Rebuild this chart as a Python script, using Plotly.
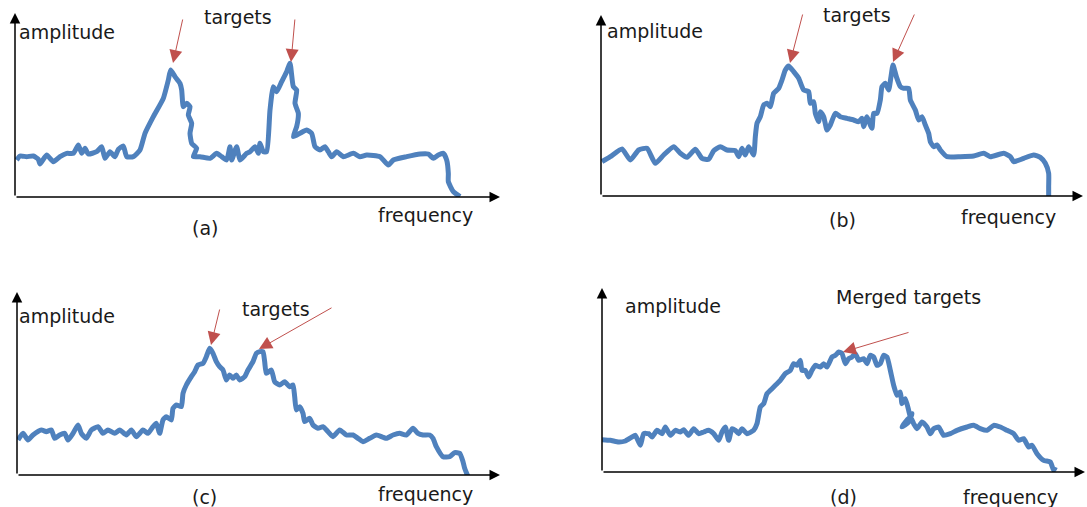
import plotly.graph_objects as go

W, H = 1087, 507

# ---------------- data (arbitrary frequency / amplitude units) ----------------
freq_a = [5,15,35,55,70,75,95,115,135,155,175,190,200,210,220,245,260,270,285,300,310,325,335,355,375,390,415,445,460,467,480,495,500,505,515,525,520,530,525,530,545,535,555,585,605,620,635,645,650,665,675,695,705,720,730,735,745,755,765,775,785,800,815,825,835,845,840,850,845,835,855,875,890,900,915,930,940,950,965,985,1015,1035,1055,1095,1120,1135,1175,1215,1240,1255,1270,1285,1295,1300,1300,1315,1335]
amp_a = [111,123,121,123,113,99,126,106,121,131,131,156,131,146,129,136,151,116,136,121,143,153,121,121,141,191,241,296,351,381,361,341,321,271,281,271,246,221,191,161,146,121,121,116,131,121,111,151,111,151,111,131,136,151,131,161,136,136,261,331,316,346,376,401,331,321,281,251,211,181,191,201,191,151,141,151,136,121,136,121,131,121,126,121,96,111,121,129,129,116,126,131,111,71,46,16,1]

freq_b = [3,28,63,88,113,138,163,188,218,238,258,283,303,323,338,358,378,403,413,423,433,443,458,463,468,478,488,498,508,518,533,543,553,563,578,593,608,623,628,638,643,653,658,668,678,688,703,718,738,758,773,783,788,798,808,813,818,828,838,843,853,863,870,876,886,898,908,923,928,943,953,963,973,983,988,998,1008,1018,1038,1078,1118,1148,1168,1208,1228,1238,1268,1298,1318,1333,1343,1343,1343]
amp_b = [103,118,141,108,138,143,98,123,148,128,116,140,113,110,136,148,138,136,118,143,123,148,123,178,218,238,273,278,268,308,323,348,378,390,373,353,318,313,278,283,248,223,253,238,198,213,248,238,233,228,223,233,208,238,213,203,248,248,288,328,338,318,358,393,358,328,323,323,288,258,228,238,213,188,163,148,153,138,118,118,120,128,118,128,118,103,113,123,116,98,68,28,-7]

freq_c = [3,18,33,48,73,88,103,113,128,143,153,168,183,193,208,223,243,258,273,293,308,328,343,358,378,393,408,418,428,438,448,463,468,478,493,498,508,523,533,543,558,568,578,588,598,608,618,628,638,648,658,668,683,693,708,718,728,738,743,748,763,773,788,803,818,828,833,838,848,858,863,878,888,903,918,933,948,968,988,1008,1023,1038,1058,1078,1108,1128,1148,1168,1188,1203,1218,1238,1248,1258,1278,1298,1313,1328,1338,1343,1353]
amp_c = [105,125,105,120,135,130,135,110,120,125,105,125,150,125,110,135,145,125,135,125,135,120,135,115,135,125,145,155,125,165,175,165,200,210,205,245,270,295,310,330,335,355,380,365,340,325,315,285,300,290,300,285,295,315,340,365,370,370,340,305,315,280,270,280,265,270,235,195,205,185,160,170,150,140,145,130,115,135,120,120,110,100,110,120,110,120,125,120,140,125,120,120,110,85,55,55,67,65,40,20,-5]

freq_d = [0,25,50,70,90,100,115,125,140,150,165,180,190,205,220,235,245,260,275,290,305,320,335,350,360,370,380,390,400,410,420,435,455,465,475,485,495,505,515,525,535,550,565,575,585,595,600,610,620,630,640,655,665,675,690,700,710,720,730,740,750,760,770,785,795,805,815,825,835,845,855,865,875,885,895,900,910,920,925,930,920,900,910,925,935,945,960,975,985,995,1010,1025,1045,1065,1095,1115,1135,1155,1175,1195,1215,1235,1250,1265,1280,1290,1305,1325,1345,1355,1360]
amp_d = [97,95,90,93,105,110,80,115,115,105,125,115,135,110,125,120,127,110,130,115,120,125,115,95,120,135,95,130,125,115,130,115,125,145,195,205,235,245,255,265,275,295,305,325,320,335,305,305,285,305,320,315,325,315,345,350,360,355,325,340,345,355,335,340,325,350,345,320,325,350,345,305,260,230,240,205,220,185,165,175,150,135,150,165,145,130,150,135,115,130,135,110,115,125,135,140,130,125,140,135,125,115,95,100,75,80,55,35,30,5,15]

# red "target" arrows: tip (freq, amp) and tail (freq, amp)
tip_f_a, tip_y_a, tail_f_a, tail_y_a = [474, 828], [402, 405], [504, 840], [537, 537]
tip_f_b, tip_y_b, tail_f_b, tail_y_b = [567, 876], [399, 402], [606, 942], [549, 549]
tip_f_c, tip_y_c, tail_f_c, tail_y_c = [582, 726], [390, 378], [609, 948], [501, 504]
tip_f_d, tip_y_d, tail_f_d, tail_y_d = [723], [360], [924], [420]

panel_labels = ["(a)", "(b)", "(c)", "(d)"]
target_labels = ["targets", "targets", "targets", "Merged targets"]
x_title = "frequency"
y_title = "amplitude"

# ---------------- layout helpers ----------------
# pixel boxes of each panel's axes: (left, right, bottom, top)
boxes = [(15, 500, 197, 13), (601, 1083, 196, 15), (17, 500, 475, 292), (602, 1085, 472, 288)]
series = [(freq_a, amp_a), (freq_b, amp_b), (freq_c, amp_c), (freq_d, amp_d)]
arrows = [(tip_f_a, tip_y_a, tail_f_a, tail_y_a), (tip_f_b, tip_y_b, tail_f_b, tail_y_b),
          (tip_f_c, tip_y_c, tail_f_c, tail_y_c), (tip_f_d, tip_y_d, tail_f_d, tail_y_d)]
# text positions in pixels: amplitude (left, mid), targets (center), panel label, frequency
txt_pos = [
    dict(amp=(17, 32), tgt=(238, 17), lab=(205, 228), frq=(425, 215)),
    dict(amp=(605, 31), tgt=(857, 15), lab=(842, 220), frq=(1008, 217)),
    dict(amp=(17, 316), tgt=(276, 309), lab=(204, 497), frq=(425, 494)),
    dict(amp=(623, 306), tgt=(908, 297), lab=(843, 497), frq=(1010, 497)),
]

BLUE = "#4F81BD"
RED = "#C0504D"
FONT = dict(family="DejaVu Sans", size=19, color="#1a1a1a")

fig = go.Figure()
layout = dict(width=W, height=H, margin=dict(l=0, r=0, t=0, b=0),
              paper_bgcolor="white", plot_bgcolor="white", showlegend=False)
annotations = []

def px(x):
    return x / W

def py(y):
    return 1 - y / H

for i, ((l, r, b, t), (fx, ay), arr, tp) in enumerate(zip(boxes, series, arrows, txt_pos)):
    n = "" if i == 0 else str(i + 1)
    xr = (r - l) * 3
    yr = (b - t) * 3
    layout["xaxis" + n] = dict(domain=[px(l), px(r)], range=[0, xr], visible=False,
                               fixedrange=True, anchor="y" + n)
    layout["yaxis" + n] = dict(domain=[py(b), py(t)], range=[0, yr], visible=False,
                               fixedrange=True, anchor="x" + n)
    fig.add_trace(go.Scatter(x=fx, y=ay, mode="lines", xaxis="x" + n, yaxis="y" + n,
                             line=dict(color=BLUE, width=5, shape="spline", smoothing=0.5),
                             hoverinfo="skip"))
    # axes with arrowheads
    for (x1, y1) in [(xr, 0), (0, yr)]:
        annotations.append(dict(x=x1, y=y1, ax=0, ay=0, xref="x" + n, yref="y" + n,
                                axref="x" + n, ayref="y" + n, text="", showarrow=True,
                                arrowhead=2, arrowsize=1.4, arrowwidth=1.5, arrowcolor="black"))
    # red arrows
    for tfx, tfy, sfx, sfy in zip(*arr):
        annotations.append(dict(x=tfx, y=tfy, ax=sfx, ay=sfy, xref="x" + n, yref="y" + n,
                                axref="x" + n, ayref="y" + n, text="", showarrow=True,
                                arrowhead=2, arrowsize=2.6, arrowwidth=1, arrowcolor=RED))
    # texts
    annotations.append(dict(x=px(tp["amp"][0]), y=py(tp["amp"][1]), xref="paper", yref="paper",
                            text=y_title, showarrow=False, xanchor="left", yanchor="middle", font=FONT))
    annotations.append(dict(x=px(tp["tgt"][0]), y=py(tp["tgt"][1]), xref="paper", yref="paper",
                            text=target_labels[i], showarrow=False, xanchor="center", yanchor="middle", font=FONT))
    annotations.append(dict(x=px(tp["lab"][0]), y=py(tp["lab"][1]), xref="paper", yref="paper",
                            text=panel_labels[i], showarrow=False, xanchor="center", yanchor="middle", font=FONT))
    annotations.append(dict(x=px(tp["frq"][0]), y=py(tp["frq"][1]), xref="paper", yref="paper",
                            text=x_title, showarrow=False, xanchor="center", yanchor="middle", font=FONT))

layout["annotations"] = annotations
fig.update_layout(**layout)
fig.write_html("out.html", config=dict(displayModeBar=False))
